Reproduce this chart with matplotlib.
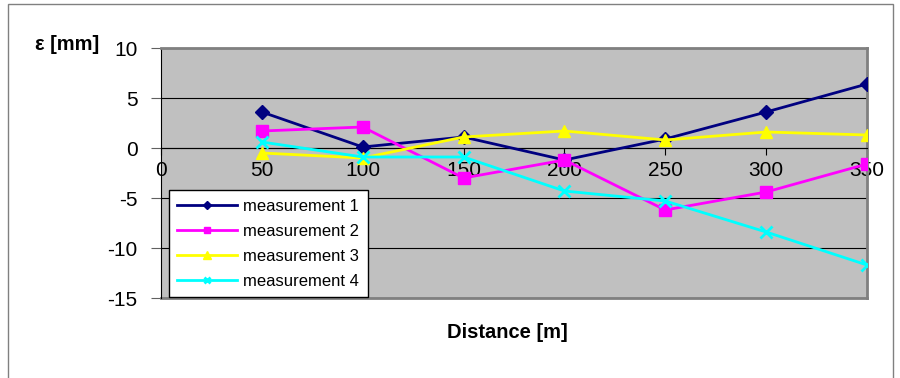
#!/usr/bin/env python3

import numpy as np
import matplotlib.pyplot as plt
import matplotlib as mpl
from matplotlib.patches import Rectangle

mpl.rcParams["font.family"] = ["Liberation Sans", "DejaVu Sans"]
mpl.rcParams["font.size"] = 12
mpl.rcParams["axes.unicode_minus"] = False

distance = [50, 100, 150, 200, 250, 300, 350]
meas1 = [3.6, 0.1, 1.1, -1.2, 0.9, 3.6, 6.4]
meas2 = [1.7, 2.1, -3.0, -1.2, -6.2, -4.4, -1.6]
meas3 = [-0.5, -1.0, 1.1, 1.7, 0.8, 1.6, 1.3]
meas4 = [0.6, -0.9, -0.9, -4.3, -5.3, -8.4, -11.7]

labels = ["measurement 1", "measurement 2", "measurement 3", "measurement 4"]
colors = ["#000080", "#FF00FF", "#FFFF00", "#00FFFF"]
markers = ["D", "s", "^", "x"]
msizes = [7, 8, 9, 8]

W, H = 900, 378
fig = plt.figure(figsize=(W / 100, H / 100), dpi=100)

# outer chart border
fig.patches.append(Rectangle((8 / W, -0.1), (893 - 8) / W, (H - 4) / H + 0.1,
                             transform=fig.transFigure, fill=False,
                             edgecolor="#808080", lw=1))

ax = fig.add_axes([161 / W, 1 - 298 / H, (867 - 161) / W, (298 - 48) / H])
ax.set_facecolor("#C0C0C0")

for y, lab, c, m, ms in zip([meas1, meas2, meas3, meas4], labels, colors, markers, msizes):
    ax.plot(distance, y, color=c, marker=m, ms=ms, lw=2, mew=2 if m == "x" else 1,
            label=lab, zorder=3)

ax.set_xlim(0, 350)
ax.set_ylim(-15, 10)
ax.set_yticks(np.arange(-15, 11, 5))
ax.set_xticks(np.arange(0, 351, 50))
ax.yaxis.grid(True, color="black", lw=0.8)
ax.set_axisbelow(True)

# x axis sits at y = 0
ax.spines["bottom"].set_position(("data", 0))
ax.spines["bottom"].set_color("black")
ax.spines["left"].set_color("black")
ax.spines["top"].set_color("#808080")
ax.spines["right"].set_color("#808080")
ax.spines["top"].set_linewidth(2)
ax.spines["right"].set_linewidth(2)
ax.tick_params(axis="x", direction="out", length=5, pad=4, labelsize=15)
ax.tick_params(axis="y", direction="out", length=7, pad=10, labelsize=15,
               color="#606060")

# gray bottom edge of plot area
ax.axhline(-15, color="#808080", lw=2, clip_on=False)

fig.text(35 / W, 1 - 45 / H, "ε [mm]", fontsize=14.5, fontweight="bold",
         ha="left", va="center")
fig.text(507 / W, 1 - 333 / H, "Distance [m]", fontsize=14.5, fontweight="bold",
         ha="center", va="center")

leg = ax.legend(loc="lower left", bbox_to_anchor=(169 / W, 1 - 297 / H),
                bbox_transform=fig.transFigure, frameon=True, fancybox=False,
                edgecolor="black", framealpha=1, borderaxespad=0,
                handlelength=3.6, fontsize=12, labelspacing=0.6,
                borderpad=0.5, handletextpad=0.35, markerscale=0.6)
leg.get_frame().set_linewidth(1)

plt.savefig("out.png", dpi=100)
